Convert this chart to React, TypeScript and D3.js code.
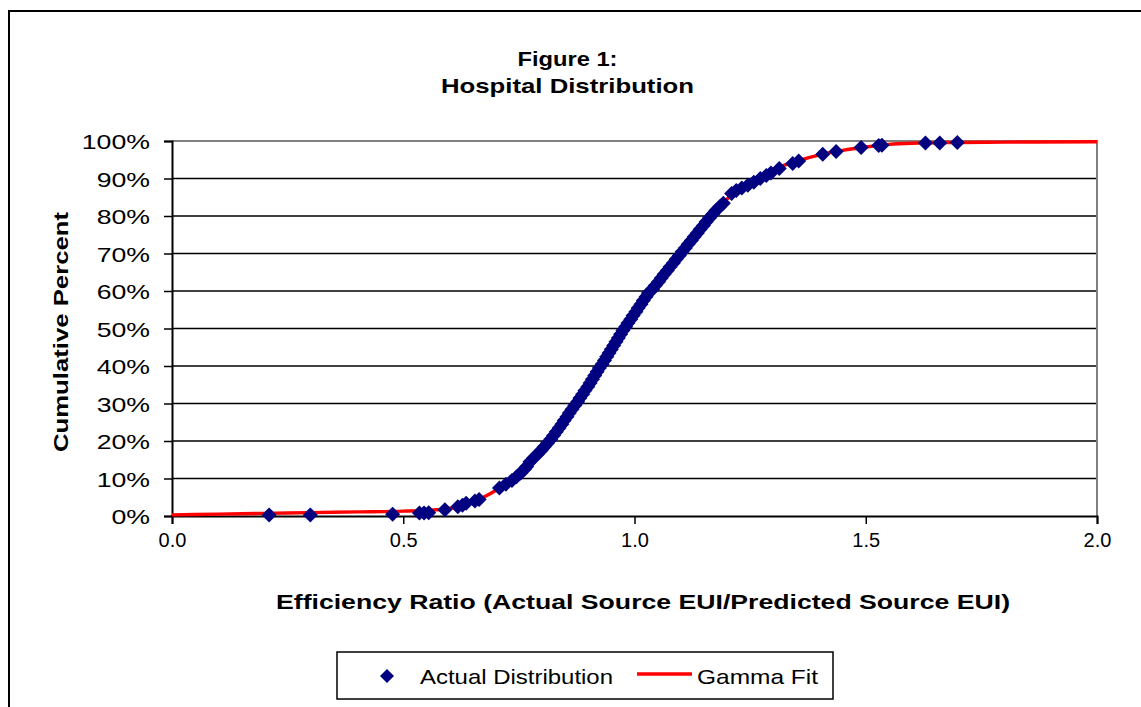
import React, { useRef, useEffect } from 'react';
import * as d3 from 'd3';

// Actual Distribution: efficiency ratio (x) and cumulative percent (y)
const actualRatio = [
    0.21, 0.299, 0.477, 0.535, 0.545, 0.555, 0.59, 0.618, 0.628, 0.636, 0.655, 0.664,
    0.708, 0.722, 0.735, 0.745, 0.754, 0.762, 0.767,
    0.774, 0.782, 0.79, 0.798, 0.805, 0.812, 0.819, 0.825, 0.831, 0.837, 0.843, 0.848,
    0.854, 0.859, 0.865, 0.871, 0.877, 0.882, 0.888, 0.893, 0.899, 0.904, 0.909, 0.914,
    0.919, 0.924, 0.93, 0.935, 0.94, 0.945, 0.95, 0.955, 0.96, 0.965, 0.97, 0.975,
    0.981, 0.986, 0.992, 0.997, 1.003, 1.008, 1.014, 1.019, 1.025, 1.03, 1.039, 1.045,
    1.052, 1.058, 1.064, 1.071, 1.077, 1.084, 1.09, 1.097, 1.103, 1.11, 1.116, 1.123,
    1.129, 1.136, 1.142, 1.149, 1.155, 1.162, 1.169, 1.176, 1.184, 1.192,
    1.21, 1.22, 1.232, 1.245, 1.258, 1.272, 1.285, 1.295, 1.313, 1.342, 1.355,
    1.407, 1.436, 1.49, 1.528, 1.535, 1.629, 1.66, 1.698,
];
const actualPercent = [
    0.3, 0.3, 0.5, 0.8, 0.8, 0.9, 1.7, 2.5, 2.9, 3.4, 4.0, 4.4,
    7.5, 8.5, 9.5, 10.5, 11.5, 12.5, 13.2,
    14.5, 15.5, 16.5, 17.5, 18.5, 19.5, 20.5, 21.5, 22.5, 23.5, 24.5, 25.5,
    26.5, 27.5, 28.5, 29.5, 30.5, 31.5, 32.5, 33.5, 34.5, 35.5, 36.5, 37.5,
    38.5, 39.5, 40.5, 41.5, 42.5, 43.5, 44.5, 45.5, 46.5, 47.5, 48.5, 49.5,
    50.5, 51.5, 52.5, 53.5, 54.5, 55.5, 56.5, 57.5, 58.5, 59.5, 60.5, 61.5,
    62.5, 63.5, 64.5, 65.5, 66.5, 67.5, 68.5, 69.5, 70.5, 71.5, 72.5, 73.5,
    74.5, 75.5, 76.5, 77.5, 78.5, 79.5, 80.5, 81.5, 82.5, 83.4,
    86.0, 86.8, 87.5, 88.2, 89.0, 90.0, 90.8, 91.5, 92.7, 94.0, 94.7,
    96.5, 97.2, 98.3, 98.8, 98.9, 99.5, 99.5, 99.6,
];

// Gamma Fit curve
const fitRatio = [
    0, 0.1, 0.2, 0.3, 0.4, 0.5, 0.55, 0.6, 0.65, 0.7, 0.75, 0.8, 0.85, 0.9, 0.95, 1.0,
    1.05, 1.1, 1.15, 1.2, 1.25, 1.3, 1.35, 1.4, 1.45, 1.5, 1.55, 1.6, 1.7, 1.8, 2.0,
];
const fitPercent = [
    0.3, 0.5, 0.7, 0.9, 1.1, 1.3, 1.5, 2.0, 3.7, 6.8, 11, 17.5, 25.5, 34.5, 44.5, 54,
    62.5, 69.5, 78, 84.5, 88.8, 92.4, 94.6, 96.3, 97.5, 98.4, 99.1, 99.4, 99.6, 99.7, 99.8,
];

const xTicks = [0, 0.5, 1.0, 1.5, 2.0];
const yTicks = [0, 10, 20, 30, 40, 50, 60, 70, 80, 90, 100];

const titleLines = ['Figure 1:', 'Hospital Distribution'];
const xLabel = 'Efficiency Ratio (Actual Source EUI/Predicted Source EUI)';
const yLabel = 'Cumulative Percent';
const legendNames = ['Actual Distribution', 'Gamma Fit'];

// the source renders its text wider than plain Arial
const stretch = 1.27;

export default function App() {
    const svgRef = useRef(null);

    const width = 1141;
    const height = 707;
    const plot = { left: 172, right: 1097, top: 141, bottom: 516 };
    const font = '"Liberation Sans", Arial, sans-serif';

    useEffect(() => {
        const svg = d3.select(svgRef.current);
        svg.selectAll('*').remove(); // start clean

        const x = d3.scaleLinear().domain([0, 2]).range([plot.left, plot.right]);
        const y = d3.scaleLinear().domain([0, 100]).range([plot.bottom, plot.top]);

        // widen a text node and place it by its left, middle or right edge
        const widen = (node, len, ax, anchor) => {
            const L = len || node.getComputedTextLength() * stretch;
            const x0 = anchor === 'middle' ? ax - L / 2 : anchor === 'end' ? ax - L : ax;
            d3.select(node)
                .attr('text-anchor', 'start')
                .attr('x', x0)
                .attr('textLength', L)
                .attr('lengthAdjust', 'spacingAndGlyphs');
        };

        svg.append('rect').attr('width', width).attr('height', height).attr('fill', '#fff');

        // outer chart border
        svg.append('rect')
            .attr('x', 9).attr('y', 11)
            .attr('width', width + 20).attr('height', height + 20)
            .attr('fill', 'none').attr('stroke', '#000').attr('stroke-width', 2);

        // title
        const titleLen = [100, 253];
        svg.selectAll('.title')
            .data(titleLines)
            .enter()
            .append('text')
            .attr('class', 'title')
            .attr('y', (_, i) => 66 + i * 27)
            .attr('font-family', font).attr('font-weight', 'bold').attr('font-size', 21)
            .text(d => d)
            .each(function (_, i) { widen(this, titleLen[i], 567.5, 'middle'); });

        // gridlines
        svg.append('g')
            .selectAll('line')
            .data(yTicks.filter(d => d > 0 && d < 100))
            .enter()
            .append('line')
            .attr('x1', plot.left).attr('x2', plot.right)
            .attr('y1', d => y(d)).attr('y2', d => y(d))
            .attr('stroke', '#000').attr('stroke-width', 1.5);

        // plot top/right border (gray)
        svg.append('path')
            .attr('d', `M${plot.left},${y(100)}H${plot.right}V${plot.bottom}`)
            .attr('fill', 'none').attr('stroke', '#808080').attr('stroke-width', 2);

        // axes
        const yAxis = d3.axisLeft(y).tickValues(yTicks).tickSize(8).tickFormat(d => `${d}%`);
        const gy = svg.append('g').attr('transform', `translate(${plot.left},0)`).call(yAxis);
        const xAxis = d3.axisBottom(x).tickValues(xTicks).tickSize(8).tickFormat(d3.format('.1f'));
        const gx = svg.append('g').attr('transform', `translate(0,${plot.bottom})`).call(xAxis);

        [gx, gy].forEach(g => {
            g.select('.domain').attr('stroke', '#000').attr('stroke-width', 2);
            g.selectAll('.tick line').attr('stroke', '#000').attr('stroke-width', 1.5);
            g.selectAll('.tick text')
                .attr('font-family', font).attr('font-size', 21).attr('fill', '#000');
        });
        gy.selectAll('.tick text')
            .attr('dy', '0.36em')
            .each(function () { widen(this, 0, -22, 'end'); });
        gx.selectAll('.tick text').attr('y', 31).attr('dy', 0).attr('font-size', 20);

        // axis titles
        svg.append('text')
            .attr('y', 609)
            .attr('font-family', font).attr('font-weight', 'bold').attr('font-size', 21)
            .text(xLabel)
            .each(function () { widen(this, 734, 643, 'middle'); });
        svg.append('g')
            .attr('transform', 'translate(68,332) rotate(-90)')
            .append('text')
            .attr('y', 0)
            .attr('font-family', font).attr('font-weight', 'bold').attr('font-size', 21)
            .text(yLabel)
            .each(function () { widen(this, 240, 0, 'middle'); });

        // gamma fit line
        const fit = fitRatio.map((d, i) => [d, fitPercent[i]]);
        const line = d3.line()
            .x(d => x(d[0]))
            .y(d => y(d[1]))
            .curve(d3.curveMonotoneX);
        svg.append('path')
            .datum(fit)
            .attr('d', line)
            .attr('fill', 'none').attr('stroke', '#ff0000').attr('stroke-width', 3.5);

        // actual distribution diamonds
        const diamond = 'M0,-7.5L7.5,0L0,7.5L-7.5,0Z';
        svg.append('g')
            .selectAll('path')
            .data(actualRatio.map((d, i) => [d, actualPercent[i]]))
            .enter()
            .append('path')
            .attr('d', diamond)
            .attr('transform', d => `translate(${x(d[0])},${y(d[1])})`)
            .attr('fill', '#000080');

        // legend
        const lg = svg.append('g');
        lg.append('rect')
            .attr('x', 337).attr('y', 652).attr('width', 496).attr('height', 47)
            .attr('fill', '#fff').attr('stroke', '#000').attr('stroke-width', 1.5);
        lg.append('path')
            .attr('d', 'M0,-7L7,0L0,7L-7,0Z')
            .attr('transform', 'translate(387,676)')
            .attr('fill', '#000080');
        lg.append('line')
            .attr('x1', 637).attr('x2', 692).attr('y1', 674).attr('y2', 674)
            .attr('stroke', '#ff0000').attr('stroke-width', 3.5);
        const legendLen = [193, 121];
        lg.selectAll('text')
            .data(legendNames)
            .enter()
            .append('text')
            .attr('y', 684)
            .attr('font-family', font).attr('font-size', 21)
            .text(d => d)
            .each(function (_, i) { widen(this, legendLen[i], i === 0 ? 420 : 697, 'start'); });
    }, []);

    return (
        <svg
            ref={svgRef}
            width={width}
            height={height}
            style={{ position: 'absolute', left: 0, top: 0, display: 'block' }}
        ></svg>
    );
}
